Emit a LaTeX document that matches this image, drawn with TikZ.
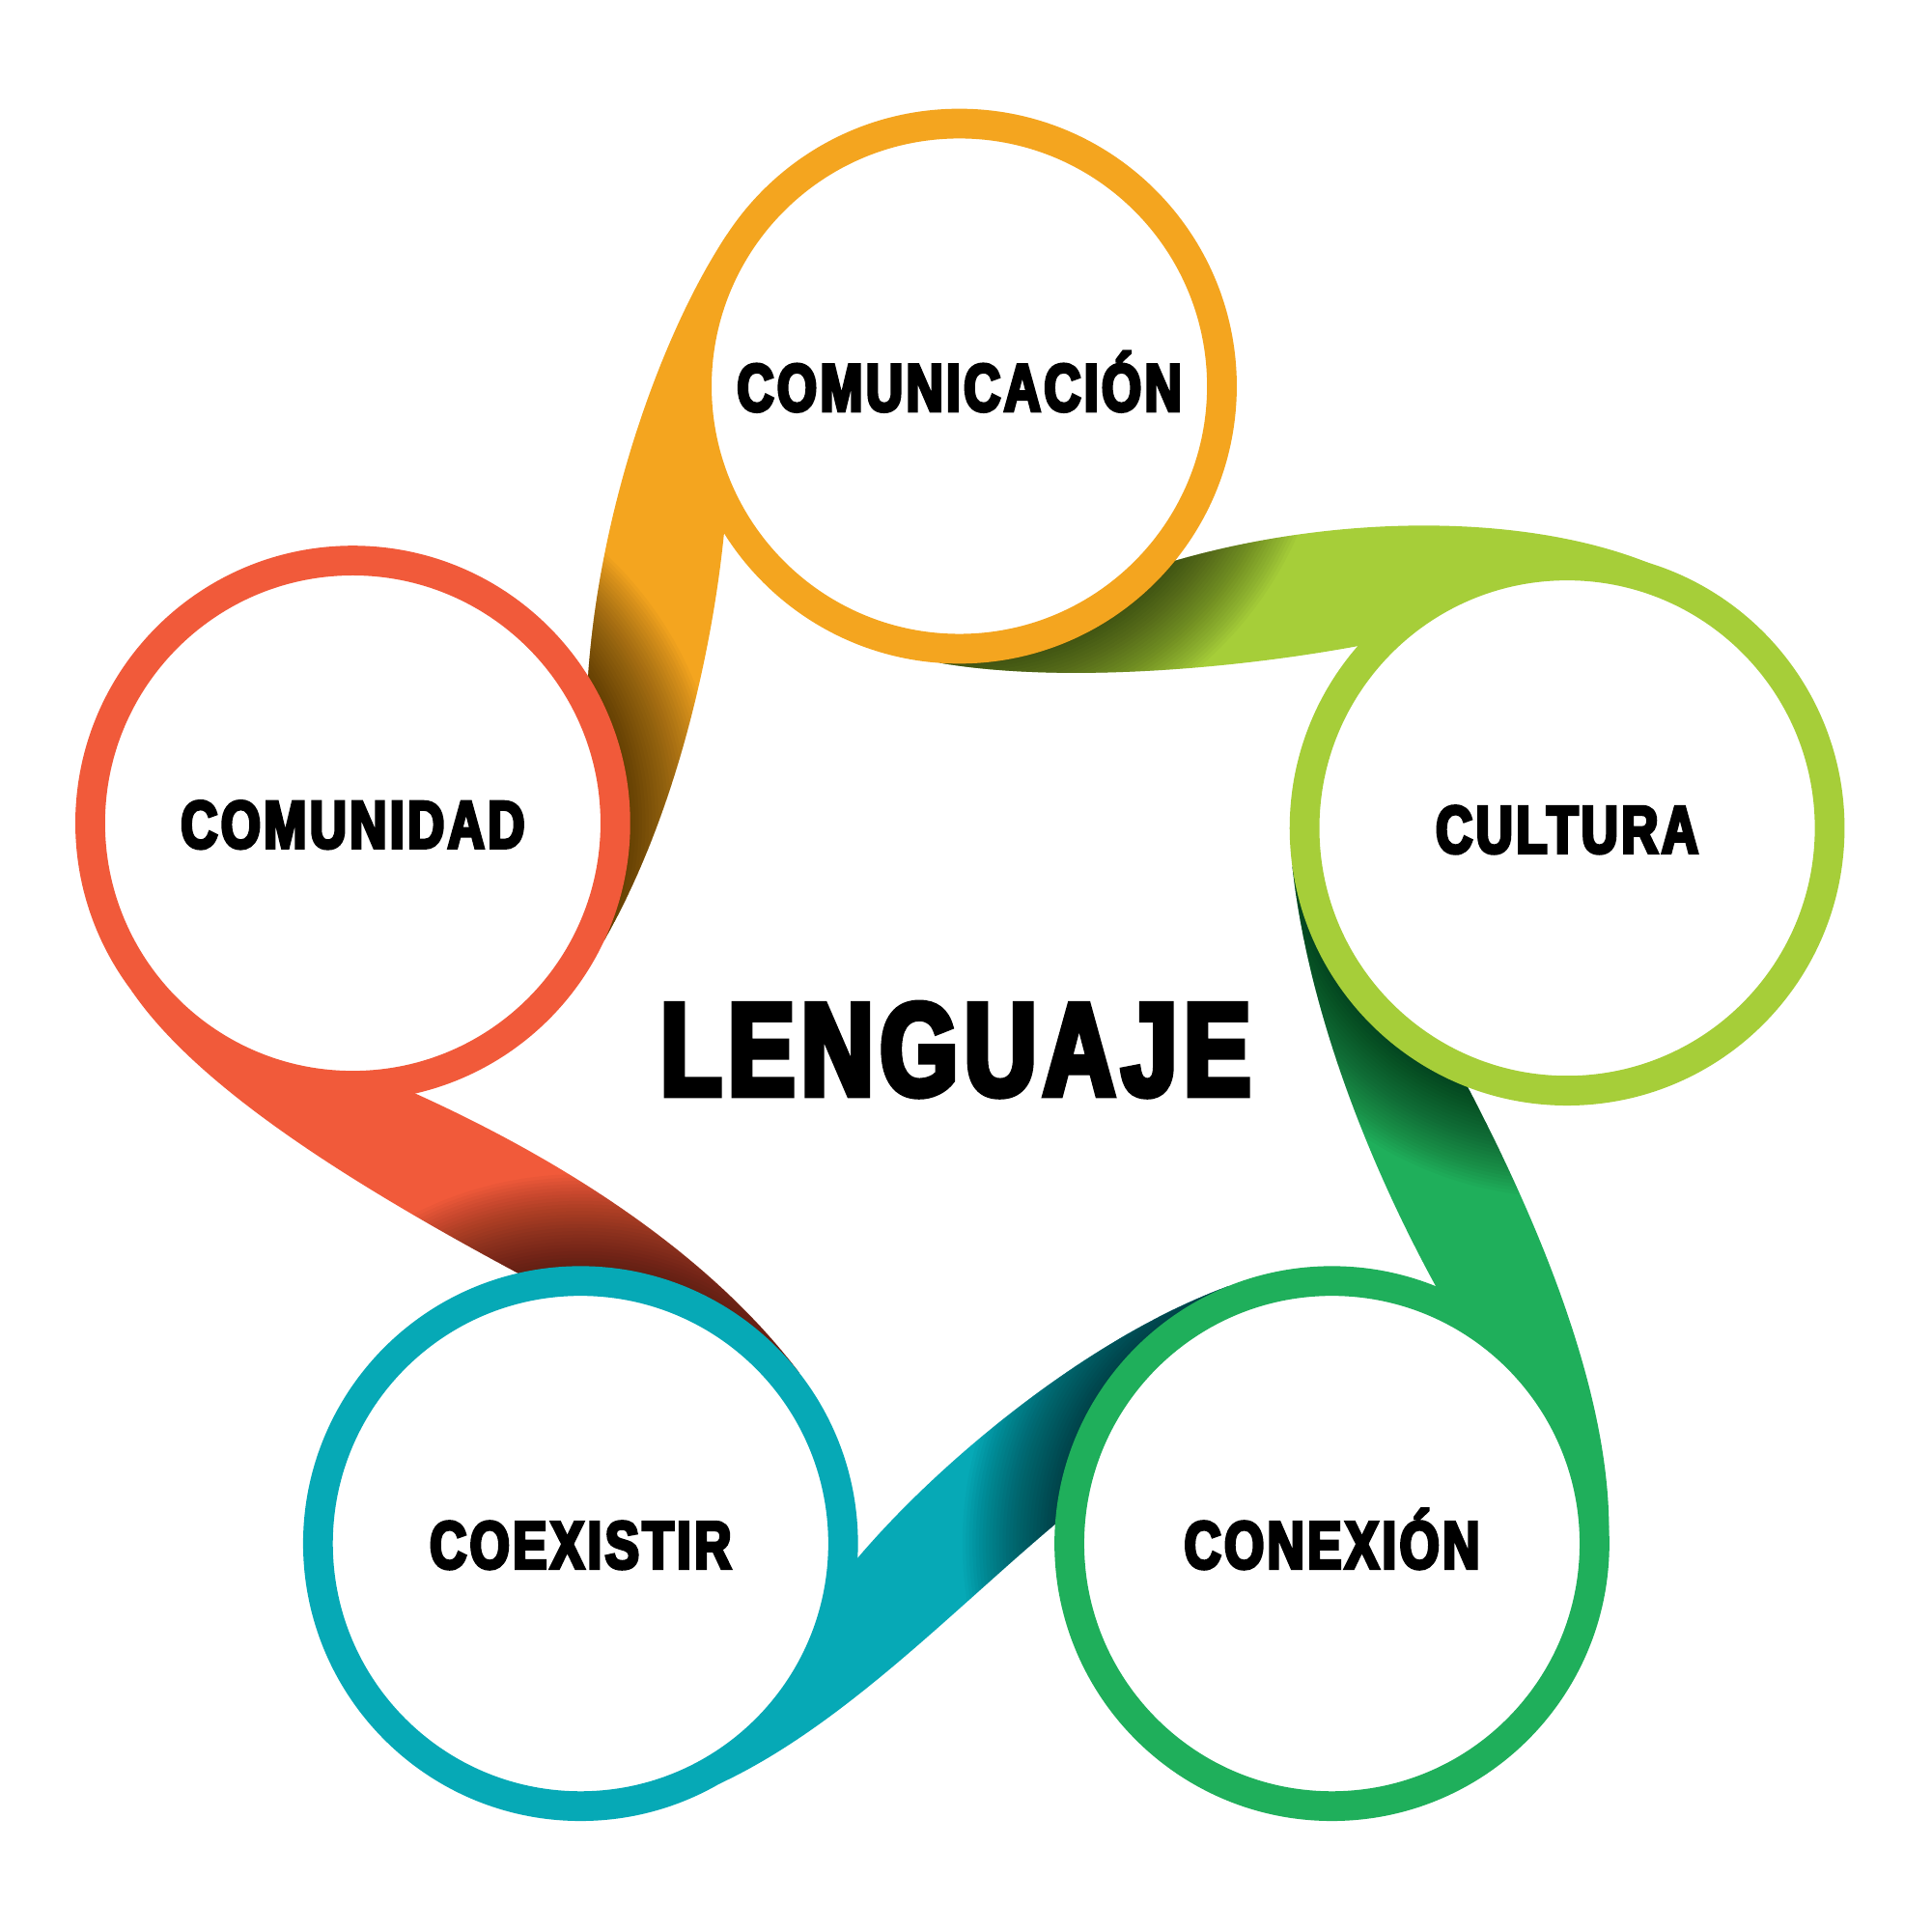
\documentclass[tikz,border=0pt]{standalone}
\usepackage{fontspec}
\newfontfamily\lblfont[FakeStretch=0.76,LetterSpace=5,BoldFeatures={FakeBold=5}]{Liberation Sans}
\usepackage{xcolor}
\definecolor{naranja}{HTML}{F4A51F}
\definecolor{lima}{HTML}{A6CE39}
\definecolor{verde}{HTML}{1FAF5B}
\definecolor{turquesa}{HTML}{06A9B6}
\definecolor{rojo}{HTML}{F15A3A}
\usetikzlibrary{backgrounds}

\begin{document}
\begin{tikzpicture}[x=0.01cm,y=0.01cm,
        ring/.style={circle,draw=#1,fill=white,line width=0.24cm,minimum size=4.24cm,inner sep=0pt,
            font=\lblfont\bfseries\fontsize{15.4}{18}\selectfont,text height=0.4cm,text depth=0pt},
        ribbon/.style 2 args={fill=#1,path picture={\foreach \k in {0,...,29} {\fill[black,opacity=0.0265] (#2.center) circle ({2.2cm+\k*0.027cm});}}}]
        \useasboundingbox (0,0) rectangle (1560,1560);
        \node[ring=naranja] (comunicacion) at (775,1248) {COMUNICACIÓN};
        \node[ring=lima] (cultura) at (1266,891) {CULTURA};
        \node[ring=verde] (conexion) at (1076,313) {CONEXIÓN};
        \node[ring=turquesa] (coexistir) at (469,313) {COEXISTIR};
        \node[ring=rojo] (comunidad) at (285,895) {COMUNIDAD};
        \node[font=\lblfont\bfseries\fontsize{30.2}{34}\selectfont] (lenguaje) at (772,712) {LENGUAJE};
        \begin{pgfonlayer}{background}
        \fill[white] (0,0) rectangle (1560,1560);
        \path[ribbon={naranja}{comunidad}] (comunicacion.147) .. controls +(-47,-70) and +(10,146) .. (comunidad.32) -- (comunidad.center) -- (comunidad.-25) .. controls +(57,100) and +(-10,-99) .. (comunicacion.212) -- (comunicacion.center) -- cycle;
        \path[ribbon={lima}{comunicacion}] (cultura.73) .. controls +(-100,40) and +(131,38) .. (comunicacion.-39) -- (comunicacion.center) -- (comunicacion.-94) .. controls +(100,-17) and +(-97,-18) .. (cultura.139) -- (cultura.center) -- cycle;
        \path[ribbon={verde}{cultura}] (conexion.3) .. controls +(0,105) and +(64,-122) .. (cultura.-111) -- (cultura.center) -- (cultura.188) .. controls +(11,-100) and +(-65,119) .. (conexion.68) -- (conexion.center) -- cycle;
        \path[ribbon={turquesa}{conexion}] (coexistir.-3) .. controls +(67,79) and +(-112,-41) .. (conexion.112) -- (conexion.center) -- (conexion.176) .. controls +(-82,-69) and +(99,46) .. (coexistir.-60) -- (coexistir.center) -- cycle;
        \path[ribbon={rojo}{coexistir}] (comunidad.217) .. controls +(54,-80) and +(-129,69) .. (coexistir.103) -- (coexistir.center) -- (coexistir.38) .. controls +(-75,99) and +(115,-52) .. (comunidad.-77) -- (comunidad.center) -- cycle;
        \end{pgfonlayer}
    \end{tikzpicture}
\end{document}
